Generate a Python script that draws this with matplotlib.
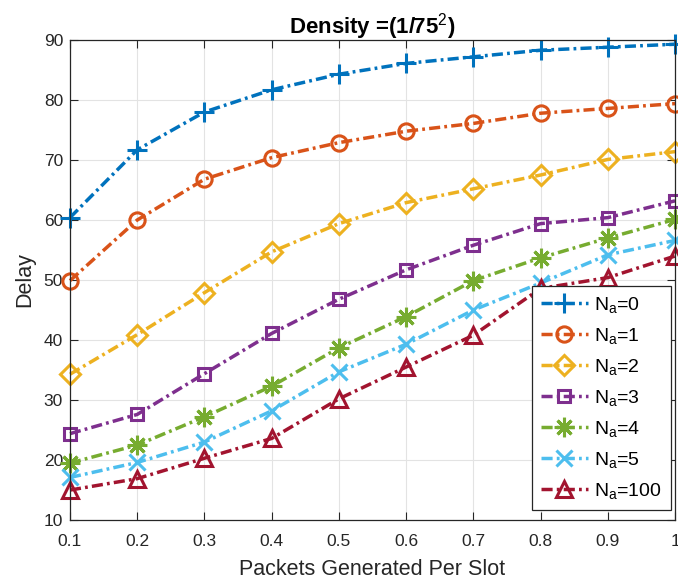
import matplotlib
matplotlib.use("Agg")
import matplotlib.pyplot as plt
import numpy as np

plt.rcParams.update({
    "font.family": ["Liberation Sans", "DejaVu Sans"],
    "mathtext.fontset": "custom",
    "mathtext.rm": "Liberation Sans",
    "mathtext.it": "Liberation Sans",
    "mathtext.bf": "Liberation Sans:bold",
})

x = [0.1, 0.2, 0.3, 0.4, 0.5, 0.6, 0.7, 0.8, 0.9, 1.0]
na0 = [60.4, 71.7, 78.0, 81.7, 84.3, 86.1, 87.2, 88.3, 88.8, 89.3]
na1 = [49.9, 60.0, 66.8, 70.4, 72.9, 74.8, 76.1, 77.8, 78.6, 79.4]
na2 = [34.3, 40.9, 47.9, 54.7, 59.4, 62.9, 65.2, 67.5, 70.1, 71.4]
na3 = [24.4, 27.6, 34.4, 41.1, 46.8, 51.7, 55.8, 59.4, 60.4, 63.2]
na4 = [19.5, 22.5, 27.2, 32.3, 38.7, 43.9, 49.9, 53.7, 57.0, 60.1]
na5 = [17.1, 19.6, 23.0, 28.2, 34.7, 39.3, 45.0, 49.5, 54.2, 56.6]
na100 = [15.0, 16.9, 20.3, 23.6, 30.2, 35.5, 40.8, 48.6, 50.4, 54.0]

series = [na0, na1, na2, na3, na4, na5, na100]
labels = ["N$_a$=0", "N$_a$=1", "N$_a$=2", "N$_a$=3", "N$_a$=4", "N$_a$=5", "N$_a$=100"]
colors = ["#0072BD", "#D95319", "#EDB120", "#7E2F8E", "#77AC30", "#4DBEEE", "#A2142F"]
# MATLAB style markers; '*' there is an 8-spoke asterisk
markers = ["+", "o", "D", "s", (8, 2, 0), "x", "^"]
msizes = [14, 11, 10, 9, 14, 12, 12]

fig = plt.figure(figsize=(6.78, 5.85), dpi=100)
ax = fig.add_axes([0.1032, 0.111, 0.8924, 0.8206])

for y, lab, c, m, ms in zip(series, labels, colors, markers, msizes):
    ax.plot(x, y, linestyle=(0, (3.2, 1.2, 0.8, 1.2)), color=c, linewidth=2.5,
            marker=m, markersize=ms, markerfacecolor="none", markeredgecolor=c,
            markeredgewidth=2.2, label=lab, clip_on=False)

ax.set_xlim(0.1, 1.0)
ax.set_ylim(10, 90)
ax.set_xticks(x)
ax.set_xticklabels(["0.1", "0.2", "0.3", "0.4", "0.5", "0.6", "0.7", "0.8", "0.9", "1"])
ax.set_yticks(np.arange(10, 91, 10))
ax.tick_params(direction="in", top=True, right=True, labelsize=12.5,
               length=6, width=0.8, colors="#262626", labelcolor="#262626", pad=5)
ax.tick_params(axis="x", pad=10)
ax.grid(True, color="#e3e3e3", linewidth=0.8)
ax.set_axisbelow(True)
for s in ax.spines.values():
    s.set_color("#262626")
    s.set_linewidth(0.9)

ax.set_xlabel("Packets Generated Per Slot", fontsize=15.5, color="#262626", labelpad=7)
ax.set_ylabel("Delay", fontsize=15.5, color="#262626", labelpad=6)
ax.set_title("Density =(1/75$^2$)", fontsize=16, fontweight="bold", pad=5)

leg = ax.legend(loc="lower right", bbox_to_anchor=(0.993, 0.021), fontsize=14,
                fancybox=False, framealpha=1, edgecolor="#262626",
                handlelength=2.4, borderpad=0.45, labelspacing=0.57,
                handletextpad=0.35, borderaxespad=0)
leg.get_frame().set_linewidth(0.9)

fig.savefig("out.png", dpi=100)
